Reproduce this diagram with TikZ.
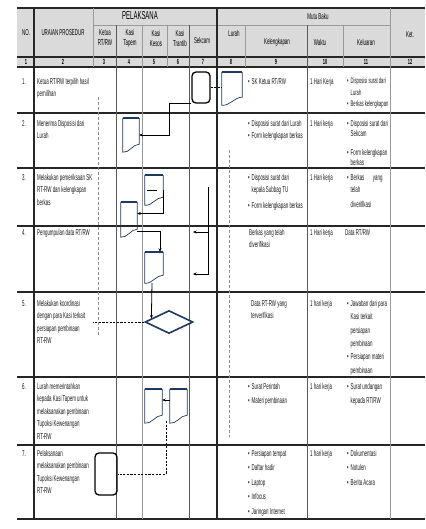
\documentclass[tikz,border=0pt]{standalone}
\usepackage{fontspec}
\newfontfamily\sopfont[FakeStretch=0.52]{Liberation Sans}
\usetikzlibrary{calc,arrows.meta,shapes.geometric}
\definecolor{sopnavy}{HTML}{1F3A60}
\definecolor{sophead}{HTML}{DADADA}
\definecolor{soptext}{HTML}{1A1A1A}
\newcommand{\bul}{\makebox[3.5pt][l]{\textbullet}}
\newcommand{\cont}{\hspace*{3.5pt}}
% document symbol, drawn round an empty node
\newcommand{\drawdoc}[1]{%
  \draw[docside] (#1.north west) -- (#1.south west)
     .. controls ($(#1.south west)!0.4!(#1.south east)+(0,1)$)
     and ($(#1.south west)!0.6!(#1.south east)+(0,-8)$)
     .. ($(#1.south east)+(0,-8)$) -- (#1.north east);
  \draw[doctop] (#1.north west) -- (#1.north east);}

\begin{document}
\begin{tikzpicture}[x=1pt, y=-1pt, >={Stealth[length=3.5pt,width=3pt]},
  font=\sopfont\fontsize{8.5}{12.5}\selectfont,
  rulebold/.style={line width=1.1pt, draw=black!85},
  rulemid/.style={line width=0.7pt, draw=black!65},
  rulethin/.style={line width=0.5pt, draw=black!40},
  txt/.style={anchor=north west, align=left, inner sep=0pt, text=soptext},
  head/.style={align=center, inner sep=0pt, text=black,
    font=\sopfont\fontsize{8.5}{10}\selectfont},
  num/.style={inner sep=0pt, font=\sopfont\bfseries\fontsize{7.5}{8}\selectfont},
  docnode/.style={minimum width=17pt, minimum height=34pt, inner sep=0pt},
  docside/.style={draw=sopnavy, line width=0.7pt},
  doctop/.style={draw=sopnavy, line width=1.5pt},
  terminal/.style={draw=black, line width=1.3pt, rounded corners=4pt, inner sep=0pt},
  decision/.style={diamond, draw=sopnavy, fill=white, line width=1.6pt, inner sep=0pt,
    minimum width=48pt, minimum height=23pt},
  flow/.style={draw=black, line width=0.8pt},
  dashflow/.style={draw=black, line width=1pt, dash pattern=on 2.2pt off 1.4pt},
  guide/.style={draw=black!45, line width=0.5pt, dash pattern=on 3pt off 2pt}]
  % page: 425 x 529, y grows downwards
  \useasboundingbox (0,0) rectangle (425,529);

  % header background
  \fill[sophead] (17,8) rectangle (425,67);

  % table rules
  \foreach \y in {8,57,67,113,168,226,292,377,445,519}
    \draw[rulebold] (17,\y) -- (425,\y);
  \draw[rulethin] (93,25) -- (390,25);
  \foreach \x in {34,217} \draw[rulebold] (\x,8) -- (\x,519);
  \foreach \x in {116,189,307} \draw[rulemid] (\x,25) -- (\x,519);
  \draw[rulethin] (142,25) -- (142,519);
  \draw[rulethin] (390,8) -- (390,519);
  \draw[rulethin] (93,8) -- (93,67);
  \foreach \x in {167,245,343} \draw[rulethin] (\x,25) -- (\x,67);

  % header texts
  \node[head] (hno) at (26,33) {NO.};
  \node[head] (hur) at (63,33) {URAIAN PROSEDUR};
  \node[head, font=\sopfont\fontsize{11.5}{12}\selectfont] (hpel) at (140,16) {PELAKSANA};
  \node[head] (hmutu) at (318,16) {Mutu Baku};
  \node[head] (hket) at (410,35) {Ket.};
  \node[head] (hketua) at (105,38) {Ketua\\RT/RW};
  \node[head] (htapem) at (130,38) {Kasi\\Tapem};
  \node[head] (hkesos) at (156,38) {Kasi\\Kesos};
  \node[head] (htrantib) at (180,38) {Kasi\\Trantib};
  \node[head] (hsekcam) at (202,40) {Sekcam};
  \node[head] (hlurah) at (234,33) {Lurah};
  \node[head] (hkel) at (277,42) {Kelengkapan};
  \node[head] (hwaktu) at (320,42) {Waktu};
  \node[head] (hkeluar) at (366,42) {Keluaran};
  \foreach \x [count=\i] in {26,63,104,129,154,178,203,231,276,325,366,410}
    \node[num] (n\i) at (\x,62) {\i};

  % row numbers
  \foreach \y [count=\i] in {78,120,174,229,300,383,450}
    \node[txt] (no\i) at (22,\y) {\i.};

  % uraian prosedur
  \node[txt] (ur1) at (37,78) {Ketua RT/RW terpilih hasil\\pemilihan};
  \node[txt] (ur2) at (37,120) {Menerima Disposisi dari\\Lurah};
  \node[txt] (ur3) at (37,174) {Melakukan pemeriksaan SK\\RT-RW dan kelengkapan\\berkas};
  \node[txt] (ur4) at (37,229) {Pengumpulan data RT/RW};
  \node[txt] (ur5) at (37,300) {Melakukan koordinasi\\dengan para Kasi terkait\\persiapan pembinaan\\RT-RW};
  \node[txt] (ur6) at (37,383) {Lurah memerintahkan\\kepada Kasi Tapem untuk\\melaksanakan pembinaan\\Tupoksi Kewenangan\\RT-RW};
  \node[txt] (ur7) at (37,450) {Pelaksanaan\\melaksanakan pembinaan\\Tupoksi Kewenangan\\RT-RW};

  % kelengkapan
  \node[txt] (kl1) at (248,78) {\bul SK Ketua RT/RW};
  \node[txt] (kl2) at (248,120) {\bul Disposisi surat dari Lurah\\\bul Form kelengkapan berkas};
  \node[txt] (kl3) at (248,174) {\bul Disposisi surat dari\\\cont kepala Subbag TU\\[3pt]\bul Form kelengkapan berkas};
  \node[txt] (kl4) at (249,229) {Berkas yang telah\\diverifikasi};
  \node[txt] (kl5) at (251,300) {Data RT-RW yang\\terverifikasi};
  \node[txt] (kl6) at (248,383) {\bul Surat Perintah\\[2pt]\bul Materi pembinaan};
  \node[txt] (kl7) at (248,450) {\bul Persiapan tempat\\[2pt]\bul Daftar hadir\\[2pt]\bul Laptop\\[2pt]\bul Infocus\\[2pt]\bul Jaringan Internet};

  % waktu
  \foreach \y/\t [count=\i] in {78/1 Hari Kerja, 120/1 Hari kerja, 174/1 Hari kerja,
      229/1 Hari kerja, 300/1 hari kerja, 383/1 hari kerja, 450/1 hari kerja}
    \node[txt] (wk\i) at (310,\y) {\t};

  % keluaran
  \node[txt, font=\sopfont\fontsize{8}{11.5}\selectfont] (ke1) at (347,78)
    {\bul Disposisi surat dari\\\cont Lurah\\\bul Berkas kelengkapan};
  \node[txt, font=\sopfont\fontsize{8.5}{10.5}\selectfont] (ke2) at (347,120)
    {\bul Disposisi surat dari\\\cont Sekcam\\[8pt]\bul Form kelengkapan\\\cont berkas};
  \node[txt] (ke3) at (347,174) {\bul Berkas\quad yang\\\cont telah\\[2pt]\cont diverifikasi};
  \node[txt] (ke4) at (345,229) {Data RT/RW};
  \node[txt, font=\sopfont\fontsize{8.5}{13.4}\selectfont] (ke5) at (347,300)
    {\bul Jawaban dari para\\\cont Kasi terkait\\\cont persiapan\\\cont pembinaan\\\bul Persiapan materi\\\cont pembinaan};
  \node[txt] (ke6) at (347,383) {\bul Surat undangan\\[2pt]\cont kepada RT/RW};
  \node[txt] (ke7) at (347,450) {\bul Dokumentasi\\[2pt]\bul Notulen\\[2pt]\bul Berita Acara};

  % guide lines
  \coordinate (ketuatop) at (98,97);
  \coordinate (ketuabot) at (98,335);
  \draw[guide] (ketuatop) -- (ketuabot);
  \coordinate (lurahtop) at (229,150);
  \coordinate (lurahbot) at (229,437);
  \draw[guide] (lurahtop) -- (lurahbot);

  % flow symbols
  \node[terminal, minimum width=18pt, minimum height=31pt] (sekcam1) at (201,87.5) {};
  \node[docnode, minimum width=20pt, minimum height=33pt] (lurah1) at (232,88.5) {};
  \drawdoc{lurah1}
  \node[docnode, minimum width=16pt] (tapem2) at (131,135) {};
  \drawdoc{tapem2}
  \node[docnode, minimum width=18pt, minimum height=30pt] (kesos3) at (154,190) {};
  \drawdoc{kesos3}
  \node[docnode, minimum width=16pt, minimum height=35pt] (tapem3) at (129,219.5) {};
  \drawdoc{tapem3}
  \node[docnode, minimum width=18pt, minimum height=31pt] (kesos4) at (154,267.5) {};
  \drawdoc{kesos4}
  \node[decision] (kesos5) at (169,322) {};
  \node[docnode] (kesos6) at (153.5,406) {};
  \drawdoc{kesos6}
  \node[docnode] (trantib6) at (178.5,406) {};
  \drawdoc{trantib6}
  \node[terminal, minimum width=22pt, minimum height=42pt] (ketua7) at (106,474) {};

  % connectors
  \draw[dashflow] (sekcam1.east) -- (sekcam1.east -| lurah1.west);
  \draw[flow, ->] (sekcam1.south west) -- ++(-22,0) |- (tapem2.east);
  \draw[flow] ([xshift=-7pt]kesos3.center) -- ([xshift=3pt]kesos3.center);
  \draw[flow, ->] (kesos3.east) |- ([yshift=6pt]tapem3.east);
  \draw[flow, ->] ([yshift=-12pt]tapem3.east) -| ([xshift=6pt]kesos4.north);
  \draw[flow, ->] ([xshift=-2pt]kesos4.south) -- ($(kesos5.west)!0.29!(kesos5.north)$);
  \coordinate (ketua5) at (93,322);
  \draw[dashflow] (kesos5.west) -- (ketua5);
  \draw[flow, ->] ([yshift=6pt]trantib6.west) -- ([yshift=6pt]kesos6.east);
  \coordinate (join6) at (166,421);
  \draw[dashflow] (join6) |- (ketua7.east);

  % sekcam return arrows
  \coordinate (sekcam3) at (208,187);
  \coordinate (sekcam4a) at (193,232);
  \coordinate (sekcam4b) at (193,274);
  \draw[flow, ->] (sekcam3) |- (sekcam4b);
  \draw[flow, ->] (sekcam3 |- sekcam4a) -- (sekcam4a);
\end{tikzpicture}
\end{document}
